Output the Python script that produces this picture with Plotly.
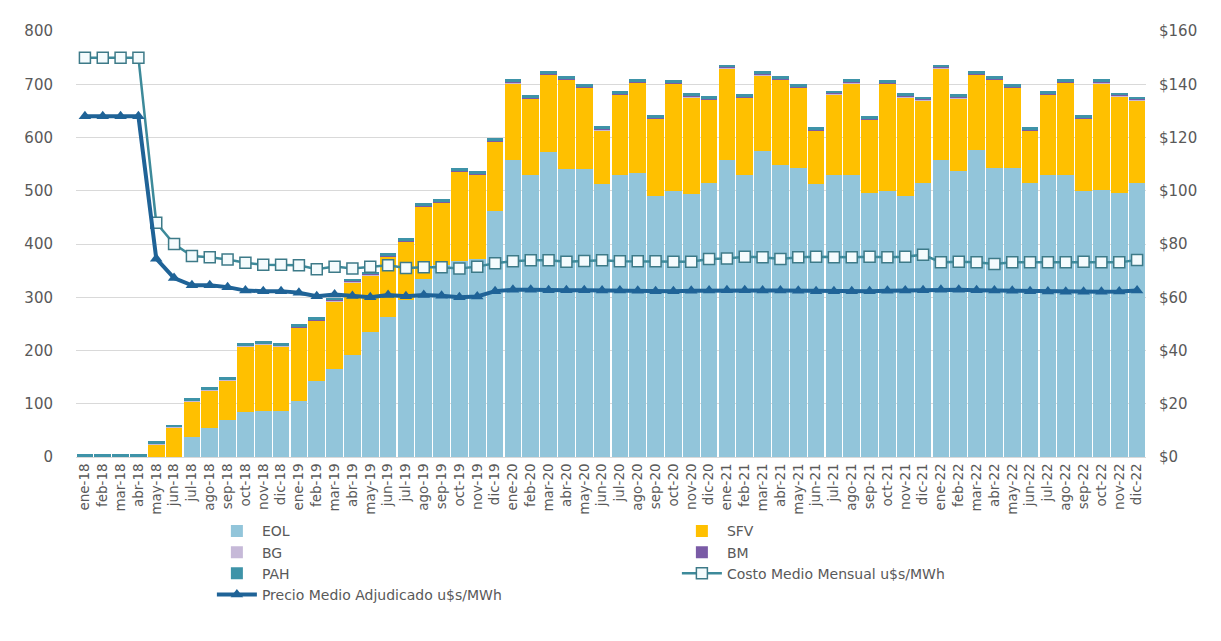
import plotly.graph_objects as go

months = ["ene", "feb", "mar", "abr", "may", "jun", "jul", "ago", "sep", "oct", "nov", "dic"]
years = ["18", "19", "20", "21", "22"]
categories = [f"{m}-{y}" for y in years for m in months]

eol = [0, 0, 0, 0, 0, 0, 38, 55, 70, 85, 87, 86,
       105, 142, 165, 192, 235, 262, 295, 335, 360, 368, 372, 462,
       558, 530, 572, 540, 540, 512, 530, 533, 490, 499, 493, 515,
       558, 530, 574, 549, 543, 512, 530, 530, 496, 499, 490, 515,
       558, 537, 576, 543, 543, 515, 530, 530, 499, 502, 496, 515]

sfv = [0, 0, 0, 0, 24, 55, 67, 70, 74, 123, 125, 122,
       138, 114, 127, 136, 106, 114, 109, 135, 117, 168, 158, 130,
       144, 143, 146, 168, 153, 102, 150, 170, 145, 202, 183, 156,
       172, 145, 143, 159, 150, 101, 151, 172, 137, 202, 186, 155,
       172, 137, 142, 165, 150, 98, 150, 173, 136, 200, 181, 155]

bg = [0, 0, 0, 0, 1, 1, 1, 1, 1, 1, 1, 1] + [1] * 48
bm = [0] * 12 + [1] * 48
pah = [5] * 60

costo = [150, 150, 150, 150, 88, 80, 75.5, 75, 74.2, 73, 72.2, 72.2,
         72, 70.5, 71.5, 70.8, 71.5, 72, 71, 71.3, 71.3, 70.8, 71.5, 72.8,
         73.5, 73.9, 73.9, 73.3, 73.6, 73.9, 73.5, 73.5, 73.5, 73.3, 73.3, 74.4,
         74.6, 75.2, 75, 74.4, 75, 75.2, 75, 75, 75.2, 75, 75.2, 76,
         73.1, 73.3, 73.1, 72.5, 73.1, 73.1, 73.1, 73.1, 73.3, 73.1, 73.1, 74]

precio = [128, 128, 128, 128, 74.5, 67.2, 64.5, 64.5, 63.8, 62.5, 62.3, 62.3,
          61.7, 60.4, 61, 60.5, 60, 60.8, 60.4, 60.8, 60.6, 60, 60.3, 62.3,
          62.8, 62.8, 62.6, 62.6, 62.6, 62.5, 62.5, 62.4, 62.3, 62.3, 62.4, 62.5,
          62.6, 62.6, 62.5, 62.5, 62.4, 62.3, 62.3, 62.3, 62.3, 62.4, 62.5, 62.6,
          62.8, 62.8, 62.6, 62.5, 62.4, 62.3, 62.2, 62.1, 62.1, 62.1, 62.2, 62.5]

left_ticks = [0, 100, 200, 300, 400, 500, 600, 700, 800]
right_ticks = [0, 20, 40, 60, 80, 100, 120, 140, 160]
right_labels = [f"${v}" for v in right_ticks]

FONT = "'DejaVu Sans', sans-serif"
GREY = "#595959"

fig = go.Figure()
bar_specs = [("EOL", eol, "#92c5da"), ("SFV", sfv, "#ffc000"), ("BG", bg, "#c6b9d8"),
             ("BM", bm, "#7a5ba6"), ("PAH", pah, "#3e93a8")]
for name, vals, col in bar_specs:
    fig.add_trace(go.Bar(x=categories, y=vals, name=name, marker=dict(color=col, line=dict(width=0))))

fig.add_trace(go.Scatter(x=categories, y=costo, name="Costo Medio Mensual u$s/MWh", yaxis="y2",
                         mode="lines+markers",
                         line=dict(color="#3d8a9a", width=2.5),
                         marker=dict(symbol="square", size=11, color="#f4fbfd",
                                     line=dict(color="#3d7a88", width=1.5))))
fig.add_trace(go.Scatter(x=categories, y=precio, name="Precio Medio Adjudicado u$s/MWh", yaxis="y2",
                         mode="lines+markers",
                         line=dict(color="#1f6397", width=4),
                         marker=dict(symbol="triangle-up", size=11, color="#1f6397")))

fig.update_layout(
    width=1221, height=641,
    barmode="stack", bargap=0.07,
    paper_bgcolor="white", plot_bgcolor="white",
    margin=dict(l=68, r=83, t=23, b=192, autoexpand=False),
    font=dict(family=FONT, color=GREY, size=15),
    xaxis=dict(type="category", range=[-0.5, 59.5], tickangle=-90,
               tickfont=dict(size=13.5, color=GREY), automargin=False,
               showgrid=False, ticks="", showline=True, linecolor="#d9d9d9"),
    yaxis=dict(range=[0, 800], tickvals=left_ticks,
               showgrid=True, gridcolor="#d9d9d9",
               zeroline=False, tickfont=dict(size=15, color=GREY), ticks="",
               ticklabelstandoff=22, automargin=False),
    yaxis2=dict(range=[0, 160], tickvals=right_ticks, ticktext=right_labels, overlaying="y",
                side="right", showgrid=False, zeroline=False, automargin=False,
                tickfont=dict(size=15, color=GREY), ticklabelstandoff=12),
    legend=dict(orientation="h", x=0.127, y=-0.137,
                xanchor="left", yanchor="top", entrywidth=410, entrywidthmode="pixels",
                font=dict(size=14, color=GREY), traceorder="normal", itemwidth=40,
                tracegroupgap=0),
)

fig.write_html("out.html")
